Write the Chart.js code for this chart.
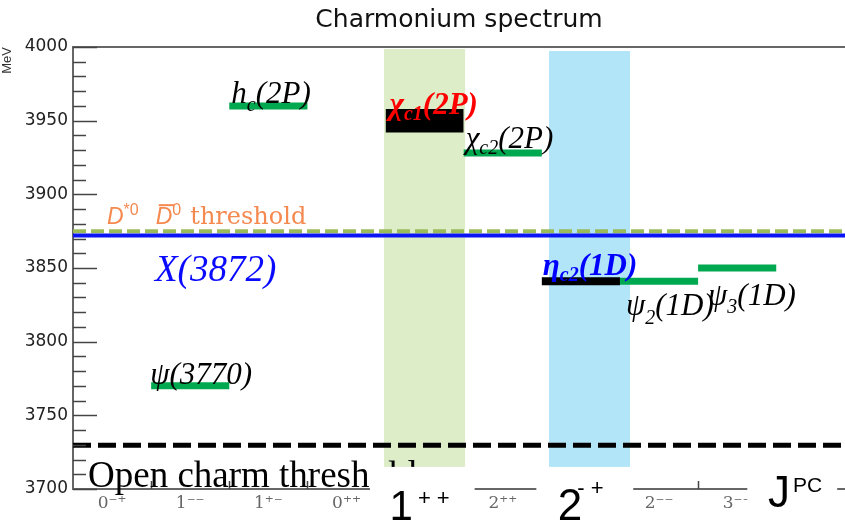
<!DOCTYPE html>
<html>
<head>
<meta charset="utf-8">
<title>Charmonium spectrum</title>
<script src="https://cdn.jsdelivr.net/npm/chart.js@4.4.1/dist/chart.umd.min.js"></script>
<style>
  html, body { margin: 0; padding: 0; background: #fff; }
  canvas { display: block; }
</style>
</head>
<body>
<canvas id="espectro" width="845" height="523"></canvas>
<script>
// Bins J^PC del eje x (el último queda cortado en el borde derecho)
const etiquetasJPC = ['0⁻⁺', '1⁻⁻', '1⁺⁻', '0⁺⁺', '1⁺⁺', '2⁺⁺', '2⁻⁺', '2⁻⁻', '3⁻⁻', ''];
const xMax = 9.88;

// Niveles verdes: bin J^PC y masa en MeV  (psi(3770), h_c(2P), chi_c2(2P), psi_2(1D), psi_3(1D))
const nivelesBin = [1, 2, 5, 7, 8];
const nivelesMasa = [3770, 3960, 3928, 3841, 3850];

// chi_c1(2P): caja negra con rango de masa
const chic1Bin = 4;
const chic1Rango = [3942, 3958];

// eta_c2(1D)
const etac2Bin = 6;
const etac2Masa = 3841;

// Lineas horizontales (MeV)
const masaX3872 = 3872;
const umbralDD = 3875;
const umbralAbierto = 3729.7;

// Bandas de color: bins que cubren y rango de masa
const bandaVerdeBins = [3.98, 5.02];
const bandaVerdeMasa = [3715, 3998.6];
const bandaAzulBins = [6.09, 7.13];
const bandaAzulMasa = [3715, 3997.3];

// Ticks del eje y
const ticksY = [3700, 3750, 3800, 3850, 3900, 3950, 4000];

const SERIF = '"Liberation Serif", "Times New Roman", serif';
const SANS = '"Liberation Sans", Arial, sans-serif';
const it = s => `italic ${s}px ${SERIF}`;
const bi = s => `italic bold ${s}px ${SERIF}`;
const verde = '#00a84f';

// Rotulos de las particulas, anclados a su nivel (dx, dy en pixeles)
const rotulos = [
  { bin: nivelesBin[1], masa: nivelesMasa[1], dx: 2, dy: -3, color: '#000',
    partes: [{ t: 'h', f: it(31) }, { t: 'c', f: it(20), dy: 8 }, { t: '(2P)', f: it(31) }] },
  { bin: nivelesBin[0], masa: nivelesMasa[0], dx: -1, dy: -2, color: '#000',
    partes: [{ t: 'ψ(3770)', f: it(31) }] },
  { bin: chic1Bin, masa: chic1Rango[1], dx: 4, dy: 5, color: '#ff0000',
    partes: [{ t: 'χ', f: bi(31) }, { t: 'c1', f: bi(20), dy: 6 }, { t: '(2P)', f: bi(31) }] },
  { bin: nivelesBin[2], masa: nivelesMasa[2], dx: 2, dy: -5, color: '#000',
    partes: [{ t: 'χ', f: it(31) }, { t: 'c2', f: it(20), dy: 6 }, { t: '(2P)', f: it(31) }] },
  { bin: etac2Bin, masa: etac2Masa, dx: 1, dy: -6, color: '#0000ff',
    partes: [{ t: 'η', f: bi(31) }, { t: 'c2', f: bi(20), dy: 6 }, { t: '(1D)', f: bi(31) }] },
  { bin: nivelesBin[3], masa: nivelesMasa[3], dx: 6, dy: 34, color: '#000',
    partes: [{ t: 'ψ', f: it(31) }, { t: '2', f: it(20), dy: 9 }, { t: '(1D)', f: it(31) }] },
  { bin: nivelesBin[4], masa: nivelesMasa[4], dx: 10, dy: 37, color: '#000',
    partes: [{ t: 'ψ', f: it(31) }, { t: '3', f: it(20), dy: 8 }, { t: '(1D)', f: it(31) }] },
  { bin: 0, masa: masaX3872, dx: 82, dy: 45, color: '#0a0aff',
    partes: [{ t: 'X(3872)', f: it(37) }] },
  { bin: 0, masa: umbralDD, dx: 34, dy: -7, color: '#f5894f',
    partes: [
      { t: 'D', f: `italic 23px ${SANS}` },
      { t: '*0', f: `16px ${SANS}`, dy: -9, sep: 17 },
      { t: 'D', f: `italic 23px ${SANS}`, barra: true },
      { t: '0', f: `16px ${SANS}`, dy: -9, sep: 9 },
      { t: 'threshold', f: '24px "DejaVu Serif", serif' }] },
  { bin: 0, masa: umbralAbierto, dx: 15, dy: 42, color: '#000',
    partes: [{ t: 'Open charm threshold', f: `37px ${SERIF}` }] }
];

// Recuadros blancos bajo las bandas y los rotulos grandes de J^PC
const recuadros = [[3.80, 5.14], [5.93, 7.17], [8.63, 9.78]];
const rotulosJPC = [
  { bin: 4, dx: 4, partes: [{ t: '1', f: `42px ${SANS}`, sep: 5 }, { t: '+ +', f: `22px ${SANS}`, dy: -15 }] },
  { bin: 6, dx: 16, partes: [{ t: '2', f: `44px ${SANS}`, sep: -5 }, { t: '- +', f: `22px ${SANS}`, dy: -25 }] },
  { bin: 8, dx: 70, partes: [{ t: 'J', f: `44px ${SANS}`, dy: -13, sep: 3 }, { t: 'PC', f: `21px ${SANS}`, dy: -28 }] }
];

function tramo(bin, masa) {
  return [{ x: bin, y: masa }, { x: bin + 1, y: masa }];
}
function horizontal(masa) {
  return [{ x: 0, y: masa }, { x: xMax, y: masa }];
}

// Escribe un texto por partes (subindices, superindices)
function textoCompuesto(c, x, y, partes, color) {
  c.fillStyle = color;
  c.strokeStyle = color;
  c.textAlign = 'left';
  c.textBaseline = 'alphabetic';
  let cx = x;
  partes.forEach(p => {
    c.font = p.f;
    c.fillText(p.t, cx, y + (p.dy || 0));
    const ancho = c.measureText(p.t).width;
    if (p.barra) {
      c.lineWidth = 2;
      c.beginPath();
      c.moveTo(cx + 3, y - 19);
      c.lineTo(cx + ancho + 2, y - 19);
      c.stroke();
    }
    cx += ancho + (p.sep || 0);
  });
}

const datasets = [
  { data: [{ x: bandaVerdeBins[0], y: bandaVerdeMasa[1] }, { x: bandaVerdeBins[1], y: bandaVerdeMasa[1] }],
    borderColor: 'transparent', borderWidth: 0, fill: { value: bandaVerdeMasa[0] }, backgroundColor: '#dcedc8', order: 30 },
  { data: [{ x: bandaAzulBins[0], y: bandaAzulMasa[1] }, { x: bandaAzulBins[1], y: bandaAzulMasa[1] }],
    borderColor: 'transparent', borderWidth: 0, fill: { value: bandaAzulMasa[0] }, backgroundColor: '#b3e5f8', order: 30 },
  { data: horizontal(umbralDD), borderColor: '#9bbb59', borderWidth: 4, borderDash: [13, 5], order: 12 },
  { data: horizontal(umbralAbierto), borderColor: '#000', borderWidth: 5, borderDash: [18, 7], order: 12 },
  { data: horizontal(masaX3872), borderColor: '#0a14f5', borderWidth: 4, order: 11 },
  { data: tramo(chic1Bin, chic1Rango[1]), borderColor: 'transparent', borderWidth: 0,
    fill: { value: chic1Rango[0] }, backgroundColor: '#000', order: 5 },
  { data: tramo(etac2Bin, etac2Masa), borderColor: '#000', borderWidth: 8, order: 4 }
];
nivelesMasa.forEach((m, i) => {
  datasets.push({ data: tramo(nivelesBin[i], m), borderColor: verde, borderWidth: 7, order: 3 });
});

// Titulo, marco, ticks interiores y rotulos
const decoracion = {
  id: 'decoracion',
  afterDraw(chart) {
    const c = chart.ctx;
    const area = chart.chartArea;
    const px = v => chart.scales.x.getPixelForValue(v);
    const py = v => chart.scales.y.getPixelForValue(v);
    c.save();

    c.font = '25px "DejaVu Sans", sans-serif';
    c.fillStyle = '#111';
    c.textAlign = 'center';
    c.fillText('Charmonium spectrum', (area.left + area.right) / 2, 27);

    // linea superior del marco
    c.strokeStyle = '#666';
    c.lineWidth = 2;
    c.beginPath();
    c.moveTo(area.left, area.top);
    c.lineTo(area.right, area.top);
    c.stroke();

    // ticks del eje y hacia dentro, menores cada 10 MeV
    c.strokeStyle = '#444';
    c.lineWidth = 1.5;
    for (let m = 3700; m <= 4000; m += 10) {
      const largo = m % 50 === 0 ? 24 : 13;
      const y = Math.round(py(m)) + 0.5;
      c.beginPath();
      c.moveTo(area.left, y);
      c.lineTo(area.left + largo, y);
      c.stroke();
    }
    // ticks del eje x en los bordes de cada bin
    for (let b = 1; b < etiquetasJPC.length; b++) {
      const x = Math.round(px(b)) + 0.5;
      c.beginPath();
      c.moveTo(x, area.bottom);
      c.lineTo(x, area.bottom - 8);
      c.stroke();
    }

    rotulos.forEach(r => {
      textoCompuesto(c, px(r.bin) + r.dx, py(r.masa) + r.dy, r.partes, r.color);
    });

    const corte = py(bandaVerdeMasa[0]);
    c.fillStyle = '#fff';
    recuadros.forEach(([a, b]) => {
      c.fillRect(px(a), corte, px(b) - px(a), chart.height - corte);
    });

    rotulosJPC.forEach(r => {
      textoCompuesto(c, px(r.bin) + r.dx, 520, r.partes, '#000');
    });
    c.restore();
  }
};

const ctx = document.getElementById('espectro').getContext('2d');
const grafico = new Chart(ctx, {
  type: 'line',
  data: { datasets: datasets },
  options: {
    responsive: false,
    animation: false,
    devicePixelRatio: 1,
    events: [],
    layout: { padding: { top: 47, right: 0, bottom: 0, left: 0 } },
    elements: { point: { radius: 0 }, line: { borderCapStyle: 'butt', tension: 0 } },
    plugins: { legend: { display: false }, tooltip: { enabled: false }, title: { display: false } },
    scales: {
      x: {
        type: 'linear', min: 0, max: xMax,
        grid: { display: false, drawTicks: false },
        border: { color: '#666', width: 2 },
        afterBuildTicks: s => { s.ticks = etiquetasJPC.map((_, i) => ({ value: i + 0.5 })); },
        afterFit: s => { s.height = 34; },
        ticks: {
          autoSkip: false, maxRotation: 0, padding: 4, color: '#666',
          font: { family: '"DejaVu Serif", serif', size: 17 },
          callback: v => etiquetasJPC[Math.floor(v)]
        }
      },
      y: {
        min: 3700, max: 4000,
        grid: { display: false, drawTicks: false },
        border: { color: '#666', width: 2 },
        afterBuildTicks: s => { s.ticks = ticksY.map(v => ({ value: v })); },
        afterFit: s => { s.width = 73; },
        ticks: {
          padding: 5, color: '#222', font: { family: '"DejaVu Sans", sans-serif', size: 17 },
          callback: v => String(v)
        },
        title: { display: true, text: 'MeV', align: 'end', padding: 0, color: '#333',
                 font: { family: SANS, size: 13 } }
      }
    }
  },
  plugins: [decoracion]
});
</script>
</body>
</html>
